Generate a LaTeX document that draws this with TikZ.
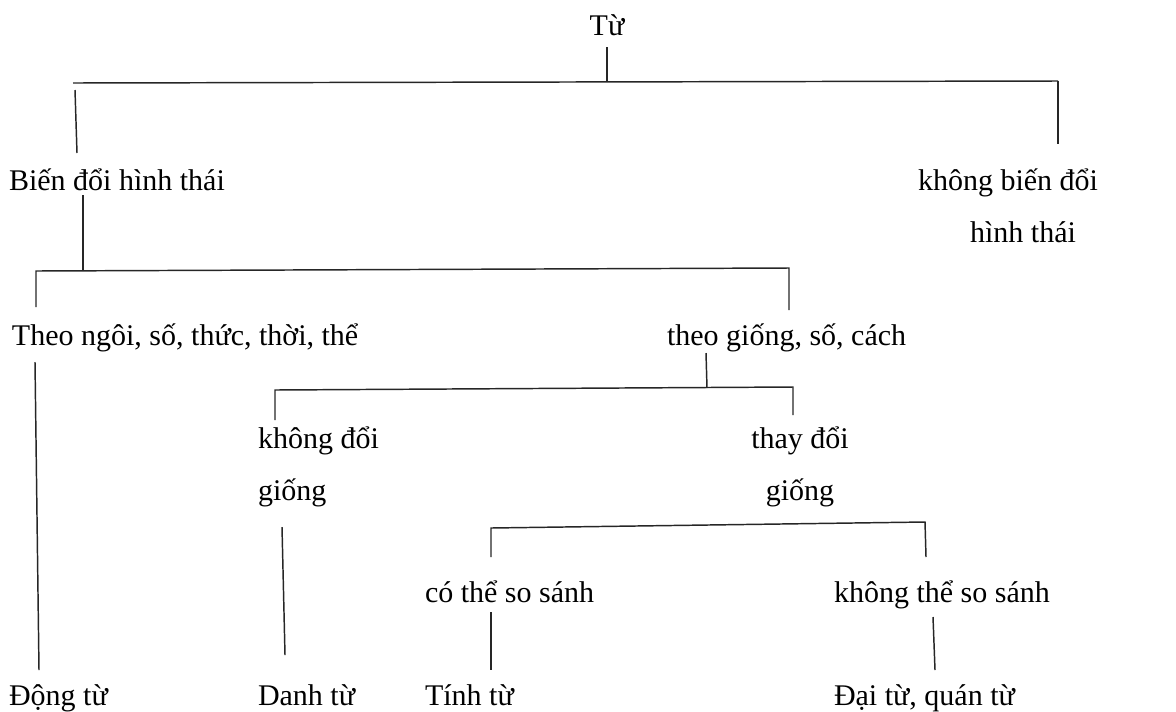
\documentclass[tikz,border=0pt]{standalone}
\usepackage{fontspec}
\setmainfont{Liberation Serif}
\begin{document}
\begin{tikzpicture}[x=0.75pt,y=-0.75pt,
  lbl/.style={inner sep=0pt,outer sep=0pt,font=\fontsize{22.5}{27}\selectfont,anchor=base west},
  lblc/.style={lbl,anchor=base},
  ln/.style={line width=1.1pt,draw=black!85}]
\useasboundingbox (0,0) rectangle (1176,711);
% labels
\node[lblc] (tu) at (607,35) {Từ};
\node[lbl] (bien) at (9,190) {Biến đổi hình thái};
\node[lblc] (khong1) at (1008,190) {không biến đổi};
\node[lblc] (khong2) at (1023,242) {hình thái};
\node[lbl] (theo) at (12,345) {Theo ngôi, số, thức, thời, thể};
\node[lbl] (theog) at (667,345) {theo giống, số, cách};
\node[lbl] (kdoi1) at (258,448) {không đổi};
\node[lbl] (kdoi2) at (258,500) {giống};
\node[lblc] (tdoi1) at (800,448) {thay đổi};
\node[lblc] (tdoi2) at (800,500) {giống};
\node[lbl] (cothe) at (425,602) {có thể so sánh};
\node[lbl] (kthe) at (834,602) {không thể so sánh};
\node[lbl] (dong) at (9,705) {Động từ};
\node[lbl] (danh) at (258,705) {Danh từ};
\node[lbl] (tinh) at (425,705) {Tính từ};
\node[lbl] (dai) at (834,705) {Đại từ, quán từ};
% junction coordinates
\coordinate (a0) at (607,47);
\coordinate (a1) at (607,82);
\coordinate (aL) at (73,83);
\coordinate (aR) at (1058,81);
\coordinate (aLd0) at (75,90);
\coordinate (aLd1) at (77,153);
\coordinate (aRd) at (1058,144);
\coordinate (b0) at (83,195);
\coordinate (b1) at (83,270);
\coordinate (bL) at (36,271);
\coordinate (bR) at (789,268);
\coordinate (bLd) at (36,307);
\coordinate (bRd) at (789,310);
\coordinate (c0) at (706,353);
\coordinate (c1) at (707,388);
\coordinate (cL) at (275,390);
\coordinate (cR) at (793,387);
\coordinate (cLd) at (275,420);
\coordinate (cRd) at (793,415);
\coordinate (d0) at (282,527);
\coordinate (d1) at (285,655);
\coordinate (eL) at (491,528);
\coordinate (eR) at (925,522);
\coordinate (eLd) at (491,557);
\coordinate (eRd) at (926,557);
\coordinate (f0) at (35,362);
\coordinate (f1) at (39,670);
\coordinate (g0) at (491,612);
\coordinate (g1) at (491,670);
\coordinate (h0) at (933,617);
\coordinate (h1) at (935,670);
% connectors
\draw[ln] (a0) -- (a1);
\draw[ln] (aL) -- (aR);
\draw[ln] (aLd0) -- (aLd1);
\draw[ln] (aR) -- (aRd);
\draw[ln] (b0) -- (b1);
\draw[ln] (bLd) -- (bL) -- (bR) -- (bRd);
\draw[ln] (c0) -- (c1);
\draw[ln] (cLd) -- (cL) -- (cR) -- (cRd);
\draw[ln] (d0) -- (d1);
\draw[ln] (eLd) -- (eL) -- (eR) -- (eRd);
\draw[ln] (f0) -- (f1);
\draw[ln] (g0) -- (g1);
\draw[ln] (h0) -- (h1);
\end{tikzpicture}
\end{document}
